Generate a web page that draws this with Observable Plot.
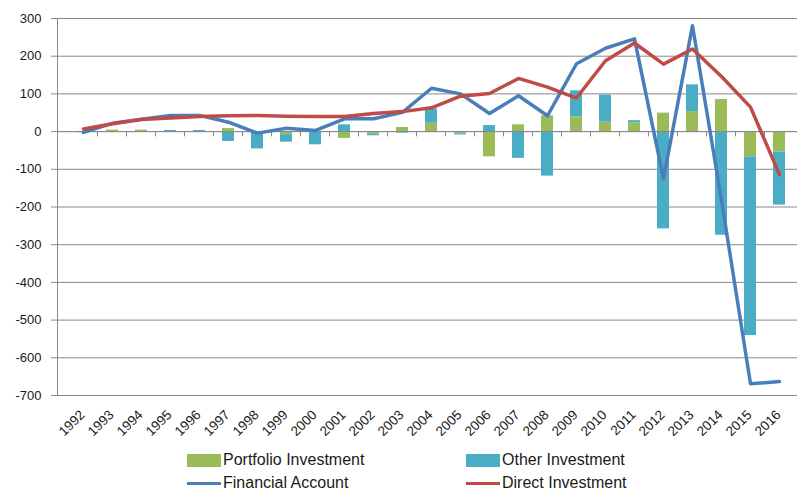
<!DOCTYPE html>
<html><head><meta charset="utf-8">
<script src="https://cdn.jsdelivr.net/npm/d3@7"></script>
<script src="https://cdn.jsdelivr.net/npm/@observablehq/plot@0.6"></script>
<style>
body{margin:0;background:#fff;font-family:"Liberation Sans",Arial,sans-serif;}
#wrap{position:relative;width:797px;height:490px;overflow:hidden;background:#fff;}
#chart{position:absolute;left:0;top:0;}
.lt{position:absolute;font-size:16px;color:#1a1a1a;white-space:nowrap;line-height:16px;}
.sw{position:absolute;}
</style></head><body>
<div id="wrap"><div id="chart"></div><div id="legend"></div></div>
<script>
const years = ["1992","1993","1994","1995","1996","1997","1998","1999","2000","2001","2002","2003","2004","2005","2006","2007","2008","2009","2010","2011","2012","2013","2014","2015","2016"];
const portfolio = [0, 4, 4, 0, 0, 8, 0, -8, 0, -18, -7, 11, 22, -6, -67, 18, 42, 39, 25, 23, 49, 53, 85, -67, -54];
const other = [-3, 0, 0, 3, 3, -26, -46, -20, -35, 18, -4, -4, 38, -3, 16, -71, -118, 69, 72, 6, -258, 71, -275, -474, -141];
const financial = [-2, 22, 33, 43, 43, 25, -4, 9, 3, 34, 34, 51, 115, 100, 48, 95, 42, 180, 221, 246, -125, 281, -182, -669, -663];
const direct = [7, 21, 32, 36, 40, 42, 43, 41, 40, 40, 48, 53, 63, 94, 101, 141, 118, 89, 188, 235, 179, 219, 146, 65, -114];
const yTicks = [-700, -600, -500, -400, -300, -200, -100, 0, 100, 200, 300];
const barNames = ["Portfolio Investment", "Other Investment"];
const barColors = ["#9bbb59", "#4bacc6"];
const lineNames = ["Financial Account", "Direct Investment"];
const lineColors = ["#4a7ebb", "#be4b48"];

const bars = [];
years.forEach((y, i) => {
  bars.push({year: y, type: barNames[0], value: portfolio[i]});
  bars.push({year: y, type: barNames[1], value: other[i]});
});
const rows = years.map((y, i) => ({year: y, fa: financial[i], di: direct[i]}));
const grid = "#888888";

const chart = Plot.plot({
  width: 797, height: 445,
  marginLeft: 57, marginRight: -8, marginTop: 18, marginBottom: 50,
  style: {fontFamily: "'Liberation Sans', Arial, sans-serif", fontSize: "13px", color: "#1a1a1a", background: "#fff"},
  x: {type: "band", domain: years, paddingInner: 0.6, paddingOuter: 0.3, align: 0.5, label: null},
  y: {domain: [-700, 300], label: null},
  color: {domain: barNames, range: barColors},
  marks: [
    Plot.gridY(yTicks, {stroke: grid, strokeOpacity: 1}),
    Plot.barY(bars, Plot.stackY({x: "year", y: "value", fill: "type"})),
    Plot.ruleY([0], {stroke: grid}),
    Plot.ruleX(years.slice(1), {x: d => d, y1: 0, y2: -14, dx: -15, stroke: grid}),
    Plot.frame({anchor: "left", stroke: grid}),
    Plot.axisY(yTicks, {tickSize: 6, tickPadding: 10, stroke: grid, tickFormat: d => String(d), fontSize: 13}),
    Plot.axisX({tickSize: 0, tickRotate: -45, tickPadding: 17, dx: -1, fontSize: 13.5}),
    Plot.line(rows, {x: "year", y: "fa", stroke: lineColors[0], strokeWidth: 3.5}),
    Plot.line(rows, {x: "year", y: "di", stroke: lineColors[1], strokeWidth: 3.5})
  ]
});
document.getElementById("chart").appendChild(chart);

const leg = document.getElementById("legend");
const items = [
  {name: barNames[0], color: barColors[0], kind: "rect", x: 187, y: 460},
  {name: barNames[1], color: barColors[1], kind: "rect", x: 466, y: 460},
  {name: lineNames[0], color: lineColors[0], kind: "line", x: 187, y: 483},
  {name: lineNames[1], color: lineColors[1], kind: "line", x: 466, y: 483}
];
items.forEach(it => {
  const s = document.createElement("div");
  s.className = "sw";
  if (it.kind === "rect") {
    Object.assign(s.style, {left: it.x + "px", top: (it.y - 6) + "px", width: "34px", height: "13px", background: it.color});
  } else {
    Object.assign(s.style, {left: it.x + "px", top: (it.y - 1.5) + "px", width: "34px", height: "3.5px", background: it.color});
  }
  leg.appendChild(s);
  const t = document.createElement("div");
  t.className = "lt";
  t.textContent = it.name;
  Object.assign(t.style, {left: (it.x + 36) + "px", top: (it.y - 8) + "px"});
  leg.appendChild(t);
});
</script>
</body></html>
